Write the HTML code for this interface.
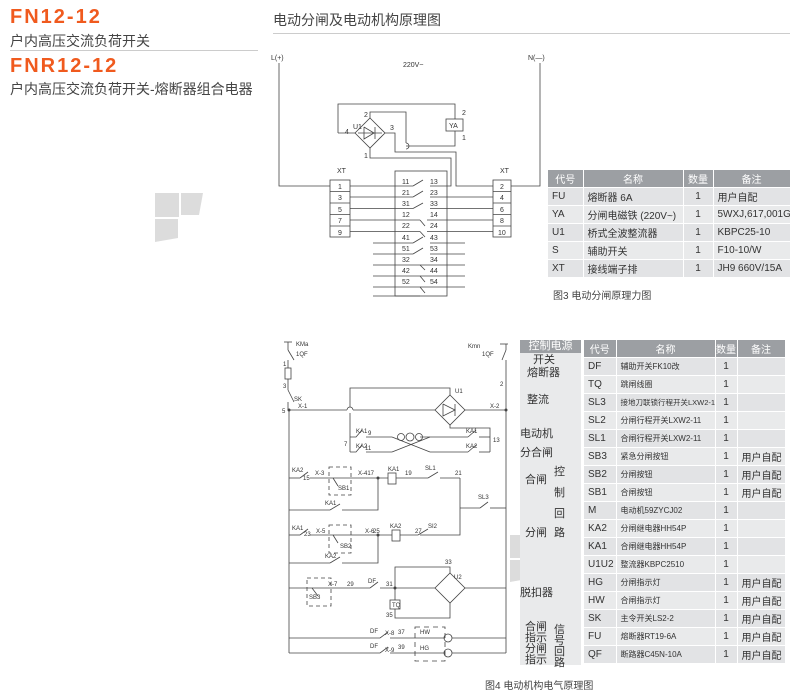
<!DOCTYPE html>
<html><head><meta charset="utf-8"><style>
body{margin:0;width:800px;height:700px;background:#fff;position:relative;overflow:hidden;font-family:"Liberation Sans","Noto Sans CJK SC",sans-serif;}
.a{position:absolute;white-space:nowrap;}
.or{color:#f05a1e;font-weight:bold;font-size:20px;letter-spacing:2px;}
.sub{color:#444;font-size:14px;}
table{border-collapse:collapse;position:absolute;table-layout:fixed;font-family:"Liberation Sans","Noto Sans CJK SC",sans-serif;color:#333;}
td,th{padding:0 0 0 4px;text-align:left;border-right:1px solid #fff;border-bottom:1px solid #fff;white-space:nowrap;overflow:hidden;}
th{background:#9c9fa3;color:#fff;font-weight:normal;text-align:center;padding:0;}
tr:nth-child(odd) td{background:#e9eaeb;} tr:nth-child(even) td{background:#e2e3e5;}
td.c{text-align:center;padding:0;}
</style></head><body>
<div class="a or" style="left:10px;top:6px;">FN12-12</div>
<div class="a sub" style="left:10px;top:31px;">户内高压交流负荷开关</div>
<div style="position:absolute;left:10px;top:50px;width:248px;height:1px;background:#ccc"></div>
<div class="a or" style="left:10px;top:55px;">FNR12-12</div>
<div class="a sub" style="left:10px;top:79px;">户内高压交流负荷开关-熔断器组合电器</div>
<div class="a" style="left:273px;top:10px;font-size:14px;color:#444;">电动分闸及电动机构原理图</div>
<div style="position:absolute;left:273px;top:33px;width:517px;height:1px;background:#ccc"></div>

<svg width="800" height="700" style="position:absolute;left:0;top:0" font-family="Liberation Sans, Noto Sans CJK SC, sans-serif" font-size="7" fill="#333">
<g fill="#dcdcdc"><polygon points="155,193 179,193 179,217 155,217"/><polygon points="181,193 203,193 199,215 181,215"/><polygon points="155,219 178,219 178,238 155,242"/>
<polygon points="510,535 533,535 533,558 510,558"/><polygon points="535,535 556,535 552,556 535,556"/><polygon points="510,560 533,560 533,578 510,582"/>
<polygon points="748,190 770,190 770,212 748,212"/></g>
<g stroke="#444" stroke-width="0.8" fill="none">
<polyline points="279,63 279,186 330,186"/>
<polyline points="540,63 540,186 511,186"/>
<rect x="330" y="180" width="20" height="57"/><line x1="330" y1="191.5" x2="350" y2="191.5"/><line x1="330" y1="203" x2="350" y2="203"/><line x1="330" y1="214.5" x2="350" y2="214.5"/><line x1="330" y1="226" x2="350" y2="226"/>
<rect x="493" y="180" width="18" height="57"/><line x1="493" y1="191.5" x2="511" y2="191.5"/><line x1="493" y1="203" x2="511" y2="203"/><line x1="493" y1="214.5" x2="511" y2="214.5"/><line x1="493" y1="226" x2="511" y2="226"/>
<rect x="395" y="171" width="52" height="125"/>
<line x1="350" y1="186" x2="413" y2="186"/><line x1="350" y1="197" x2="413" y2="197"/><line x1="350" y1="208.5" x2="413" y2="208.5"/><line x1="350" y1="220" x2="420" y2="220"/><line x1="350" y1="231.5" x2="420" y2="231.5"/>
<line x1="430" y1="197" x2="493" y2="197"/><line x1="430" y1="208.5" x2="493" y2="208.5"/><line x1="427" y1="220" x2="493" y2="220"/><line x1="427" y1="231.5" x2="493" y2="231.5"/>
<line x1="413" y1="186" x2="423" y2="180"/><line x1="413" y1="197" x2="423" y2="191"/><line x1="413" y1="208.5" x2="423" y2="203"/>
<line x1="373" y1="243" x2="413" y2="243"/><line x1="430" y1="243" x2="465" y2="243"/><line x1="413" y1="243" x2="423" y2="237"/>
<line x1="373" y1="254" x2="413" y2="254"/><line x1="430" y1="254" x2="465" y2="254"/><line x1="413" y1="254" x2="423" y2="248"/>
<line x1="373" y1="265" x2="465" y2="265"/><line x1="373" y1="276" x2="465" y2="276"/><line x1="373" y1="287" x2="465" y2="287"/><line x1="373" y1="296" x2="420" y2="296"/>
<line x1="420" y1="220" x2="425" y2="226"/><line x1="420" y1="231.5" x2="425" y2="237"/><line x1="420" y1="265" x2="425" y2="270"/><line x1="420" y1="276" x2="425" y2="282"/><line x1="420" y1="287" x2="425" y2="293"/>
<polyline points="430,186 451,186 451,158 370,158 370,148"/>
<polygon points="370,118 385,133 370,148 355,133"/>
<polyline points="338,133 355,133"/><polyline points="338,133 338,104 455,104 455,119"/>
<rect x="446" y="119" width="17" height="12"/>
<polyline points="455,131 455,146 406,146"/>
<polyline points="370,118 370,112 406,112 406,143"/><path d="M406,143 a3,3 0 0 1 0,6"/>
<polyline points="385,133 395,133 395,152 456,152 456,186 493,186"/>
<polyline points="364,127 364,139 374,133 364,127"/><line x1="375" y1="127" x2="375" y2="139"/><line x1="358" y1="133" x2="382" y2="133"/>
</g>
<g font-size="7">
<text x="271" y="60">L(+)</text><text x="528" y="60">N(—)</text><text x="403" y="67">220V~</text>
<text x="353" y="129">U1</text><text x="364" y="117">2</text><text x="345" y="134">4</text><text x="390" y="130">3</text><text x="364" y="158">1</text>
<text x="449" y="128">YA</text><text x="462" y="115">2</text><text x="462" y="140">1</text>
<text x="337" y="173">XT</text><text x="500" y="173">XT</text>
<text x="338" y="189">1</text><text x="338" y="200">3</text><text x="338" y="212">5</text><text x="338" y="223">7</text><text x="338" y="235">9</text>
<text x="500" y="189">2</text><text x="500" y="200">4</text><text x="500" y="212">6</text><text x="500" y="223">8</text><text x="498" y="235">10</text>
<g><text x="402" y="184">11</text><text x="430" y="184">13</text><text x="402" y="195">21</text><text x="430" y="195">23</text><text x="402" y="206">31</text><text x="430" y="206">33</text>
<text x="402" y="217">12</text><text x="430" y="217">14</text><text x="402" y="228">22</text><text x="430" y="228">24</text><text x="402" y="240">41</text><text x="430" y="240">43</text>
<text x="402" y="251">51</text><text x="430" y="251">53</text><text x="402" y="262">32</text><text x="430" y="262">34</text><text x="402" y="273">42</text><text x="430" y="273">44</text><text x="402" y="284">52</text><text x="430" y="284">54</text></g>
</g>

<g stroke="#444" stroke-width="0.8" fill="none">
<line x1="284" y1="342" x2="292" y2="342"/><line x1="288" y1="342" x2="288" y2="350"/><line x1="288" y1="350" x2="294" y2="360"/><polyline points="288,360 288,368"/>
<rect x="285" y="368" width="6" height="11"/><line x1="288" y1="379" x2="288" y2="390"/><line x1="288" y1="390" x2="294" y2="402"/><line x1="288" y1="402" x2="288" y2="410"/>
<line x1="500" y1="344" x2="508" y2="344"/><line x1="506" y1="344" x2="506" y2="350"/><line x1="506" y1="350" x2="502" y2="360"/><line x1="506" y1="360" x2="506" y2="653"/>
<line x1="289" y1="410" x2="289" y2="653"/>
<line x1="289" y1="410" x2="347" y2="410"/><path d="M347,410 a3,3 0 0 1 6,0"/><line x1="353" y1="410" x2="435" y2="410"/><line x1="465" y1="410" x2="506" y2="410"/>
<polygon points="450,395 465,410 450,425 435,410"/>
<polyline points="350,407 350,388 450,388 450,395"/><line x1="350" y1="413" x2="350" y2="452"/>
<polyline points="450,425 450,428 490,428 490,452"/>
<polyline points="350,437 356,437 362,430"/><line x1="366" y1="437" x2="392" y2="437"/><line x1="420" y1="437" x2="468" y2="437"/><polyline points="468,437 476,430"/><line x1="479" y1="437" x2="490" y2="437"/>
<polyline points="350,452 356,452 362,445"/><line x1="366" y1="452" x2="392" y2="452"/><line x1="392" y1="452" x2="430" y2="437"/><line x1="392" y1="437" x2="430" y2="452"/><line x1="430" y1="452" x2="468" y2="452"/><polyline points="468,452 476,445"/><line x1="479" y1="452" x2="490" y2="452"/>
<circle cx="401" cy="437" r="3.5"/><circle cx="410" cy="437" r="4"/><circle cx="419" cy="437" r="3.5"/>
<line x1="289" y1="478" x2="300" y2="478"/><line x1="300" y1="478" x2="308" y2="472"/><line x1="310" y1="478" x2="388" y2="478"/><rect x="388" y="473" width="8" height="11"/><line x1="396" y1="478" x2="428" y2="478"/><line x1="428" y1="478" x2="438" y2="472"/><line x1="440" y1="478" x2="460" y2="478"/>
<polyline points="460,478 460,535 420,535"/><line x1="460" y1="508" x2="480" y2="508"/><line x1="480" y1="508" x2="488" y2="502"/><line x1="490" y1="508" x2="506" y2="508"/>
<rect x="329" y="467" width="22" height="28" stroke-dasharray="4,3"/><line x1="333" y1="478" x2="338" y2="486"/>
<line x1="289" y1="510" x2="330" y2="510"/><line x1="330" y1="510" x2="340" y2="504"/><polyline points="342,510 378,510 378,478"/>
<line x1="289" y1="535" x2="300" y2="535"/><line x1="300" y1="535" x2="308" y2="529"/><line x1="310" y1="535" x2="392" y2="535"/><rect x="392" y="530" width="8" height="11"/><line x1="400" y1="535" x2="418" y2="535"/><line x1="418" y1="535" x2="428" y2="529"/>
<rect x="329" y="525" width="22" height="28" stroke-dasharray="4,3"/><line x1="333" y1="535" x2="338" y2="543"/>
<line x1="289" y1="563" x2="330" y2="563"/><line x1="330" y1="563" x2="340" y2="557"/><polyline points="342,563 378,563 378,535"/>
<line x1="289" y1="588" x2="370" y2="588"/><line x1="370" y1="588" x2="378" y2="582"/><line x1="380" y1="588" x2="435" y2="588"/><line x1="465" y1="588" x2="506" y2="588"/>
<polygon points="450,573 465,588 450,603 435,588"/>
<polyline points="395,588 395,567 450,567 450,573"/><rect x="390" y="600" width="10" height="9"/><line x1="395" y1="588" x2="395" y2="600"/><polyline points="395,609 395,618 450,618 450,603"/>
<rect x="307" y="578" width="24" height="28" stroke-dasharray="4,3"/><line x1="312" y1="588" x2="318" y2="596"/>
<line x1="289" y1="638" x2="380" y2="638"/><line x1="380" y1="638" x2="388" y2="632"/><line x1="390" y1="638" x2="445" y2="638"/><circle cx="448" cy="638" r="4"/><line x1="452" y1="638" x2="506" y2="638"/>
<line x1="289" y1="653" x2="380" y2="653"/><line x1="380" y1="653" x2="388" y2="647"/><line x1="390" y1="653" x2="445" y2="653"/><circle cx="448" cy="653" r="4"/><line x1="452" y1="653" x2="506" y2="653"/>
<rect x="415" y="627" width="30" height="34" stroke-dasharray="5,4"/>
<polyline points="443,404 443,416 455,410 443,404"/><line x1="455" y1="404" x2="455" y2="416"/>
</g>
<g fill="#444"><circle cx="289" cy="410" r="1.5"/><circle cx="506" cy="410" r="1.5"/><circle cx="378" cy="478" r="1.5"/><circle cx="378" cy="535" r="1.5"/><circle cx="395" cy="588" r="1.5"/></g>
<g font-size="6">
<text x="296" y="346">KMa</text><text x="296" y="356">1QF</text><text x="468" y="348">Kmn</text><text x="482" y="356">1QF</text>
<text x="283" y="366">1</text><text x="283" y="388">3</text><text x="500" y="386">2</text><text x="294" y="401">SK</text><text x="298" y="408">X-1</text><text x="282" y="413">5</text>
<text x="455" y="393">U1</text><text x="490" y="408">X-2</text>
<text x="356" y="433">KA1</text><text x="368" y="435">9</text><text x="356" y="448">KA2</text><text x="365" y="450">11</text><text x="344" y="446">7</text><text x="466" y="433">KA1</text><text x="466" y="448">KA2</text><text x="493" y="442">13</text>
<text x="292" y="472">KA2</text><text x="303" y="480">15</text><text x="315" y="475">X-3</text><text x="358" y="475">X-417</text><text x="388" y="471">KA1</text><text x="405" y="475">19</text><text x="425" y="470">SL1</text><text x="455" y="475">21</text>
<text x="338" y="490">SB1</text><text x="325" y="505">KA1</text><text x="478" y="499">SL3</text>
<text x="292" y="530">KA1</text><text x="304" y="536">23</text><text x="316" y="533">X-5</text><text x="365" y="533">X-6</text><text x="373" y="533">25</text><text x="390" y="528">KA2</text><text x="415" y="533">27</text><text x="428" y="528">SI2</text>
<text x="340" y="548">SB2</text><text x="325" y="558">KA2</text>
<text x="445" y="564">33</text><text x="454" y="579">U2</text><text x="328" y="586">X-7</text><text x="347" y="586">29</text><text x="368" y="583">DF</text><text x="386" y="586">31</text>
<text x="392" y="607">TQ</text><text x="386" y="617">35</text><text x="309" y="599">SB3</text>
<text x="370" y="633">DF</text><text x="385" y="635">X-8</text><text x="398" y="634">37</text><text x="420" y="634">HW</text>
<text x="370" y="648">DF</text><text x="385" y="652">X-9</text><text x="398" y="649">39</text><text x="420" y="650">HG</text>
</g>
</svg>

<div style="position:absolute;left:520px;top:340px;width:61px;height:325px;background:#e9eaeb;"></div>
<div class="a" style="left:520px;top:340px;width:61px;height:13px;background:#9c9fa3;color:#fff;font-size:11px;text-align:center;line-height:13px;">控制电源</div>
<div style="position:absolute;font-size:11px;color:#333;line-height:13px;left:0;top:0;">
<div class="a" style="left:533px;top:354px;">开关</div>
<div class="a" style="left:527px;top:367px;">熔断器</div>
<div class="a" style="left:527px;top:394px;">整流</div>
<div class="a" style="left:520px;top:428px;">电动机</div>
<div class="a" style="left:520px;top:447px;">分合闸</div>
<div class="a" style="left:525px;top:474px;">合闸</div>
<div class="a" style="left:554px;top:466px;">控</div><div class="a" style="left:554px;top:487px;">制</div><div class="a" style="left:554px;top:508px;">回</div><div class="a" style="left:554px;top:527px;">路</div>
<div class="a" style="left:525px;top:527px;">分闸</div>
<div class="a" style="left:520px;top:587px;">脱扣器</div>
<div class="a" style="left:525px;top:622px;line-height:11px;">合闸<br>指示<br>分闸<br>指示</div>
<div class="a" style="left:554px;top:625px;line-height:11px;">信<br>号<br>回<br>路</div>
</div>

<table style="left:548px;top:170px;width:242px;font-size:10px;">
<colgroup><col style="width:35px"><col style="width:100px"><col style="width:30px"><col style="width:77px"></colgroup>
<tr style="height:17px"><th>代号</th><th>名称</th><th>数量</th><th>备注</th></tr>
<tr style="height:18px"><td>FU</td><td>熔断器 6A</td><td class="c">1</td><td>用户自配</td></tr>
<tr style="height:18px"><td>YA</td><td>分闸电磁铁 (220V~)</td><td class="c">1</td><td>5WXJ,617,001G</td></tr>
<tr style="height:18px"><td>U1</td><td>桥式全波整流器</td><td class="c">1</td><td>KBPC25-10</td></tr>
<tr style="height:18px"><td>S</td><td>辅助开关</td><td class="c">1</td><td>F10-10/W</td></tr>
<tr style="height:18px"><td>XT</td><td>接线端子排</td><td class="c">1</td><td>JH9 660V/15A</td></tr>
</table>
<div class="a" style="left:553px;top:287px;font-size:10px;color:#444;">图3 电动分闸原理力图</div>

<table style="left:584px;top:340px;width:201px;font-size:10px;">
<colgroup><col style="width:32px"><col style="width:99px"><col style="width:22px"><col style="width:48px"></colgroup>
<tr style="height:17px"><th>代号</th><th>名称</th><th>数量</th><th>备注</th></tr>
<tr style="height:18px"><td>DF</td><td style="font-size:8px">辅助开关FK10改</td><td class="c">1</td><td></td></tr>
<tr style="height:18px"><td>TQ</td><td style="font-size:8px">跳闸线圈</td><td class="c">1</td><td></td></tr>
<tr style="height:18px"><td>SL3</td><td style="font-size:7.5px">接地刀联锁行程开关LXW2-11</td><td class="c">1</td><td></td></tr>
<tr style="height:18px"><td>SL2</td><td style="font-size:8px">分闸行程开关LXW2-11</td><td class="c">1</td><td></td></tr>
<tr style="height:18px"><td>SL1</td><td style="font-size:8px">合闸行程开关LXW2-11</td><td class="c">1</td><td></td></tr>
<tr style="height:18px"><td>SB3</td><td style="font-size:8px">紧急分闸按钮</td><td class="c">1</td><td>用户自配</td></tr>
<tr style="height:18px"><td>SB2</td><td style="font-size:8px">分闸按钮</td><td class="c">1</td><td>用户自配</td></tr>
<tr style="height:18px"><td>SB1</td><td style="font-size:8px">合闸按钮</td><td class="c">1</td><td>用户自配</td></tr>
<tr style="height:18px"><td>M</td><td style="font-size:8px">电动机59ZYCJ02</td><td class="c">1</td><td></td></tr>
<tr style="height:18px"><td>KA2</td><td style="font-size:8px">分闸继电器HH54P</td><td class="c">1</td><td></td></tr>
<tr style="height:18px"><td>KA1</td><td style="font-size:8px">合闸继电器HH54P</td><td class="c">1</td><td></td></tr>
<tr style="height:18px"><td>U1U2</td><td style="font-size:8px">整流器KBPC2510</td><td class="c">1</td><td></td></tr>
<tr style="height:18px"><td>HG</td><td style="font-size:8px">分闸指示灯</td><td class="c">1</td><td>用户自配</td></tr>
<tr style="height:18px"><td>HW</td><td style="font-size:8px">合闸指示灯</td><td class="c">1</td><td>用户自配</td></tr>
<tr style="height:18px"><td>SK</td><td style="font-size:8px">主令开关LS2-2</td><td class="c">1</td><td>用户自配</td></tr>
<tr style="height:18px"><td>FU</td><td style="font-size:8px">熔断器RT19-6A</td><td class="c">1</td><td>用户自配</td></tr>
<tr style="height:18px"><td>QF</td><td style="font-size:8px">断路器C45N-10A</td><td class="c">1</td><td>用户自配</td></tr>
</table>
<div class="a" style="left:485px;top:677px;font-size:10px;color:#444;">图4 电动机构电气原理图</div>
</body></html>
